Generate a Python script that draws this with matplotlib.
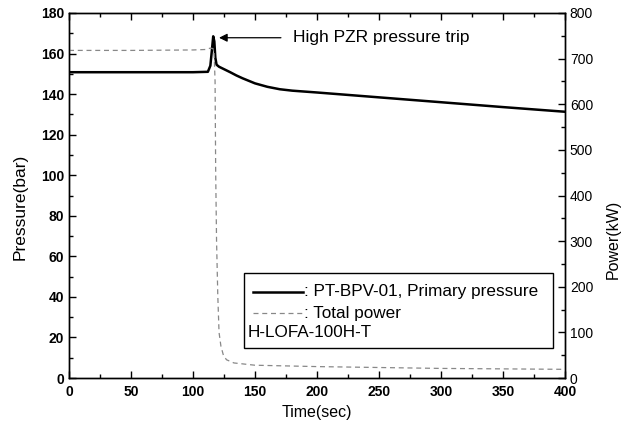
import matplotlib
matplotlib.use("Agg")
import matplotlib.pyplot as plt
from matplotlib.ticker import MultipleLocator
from matplotlib.patches import Rectangle
from matplotlib.lines import Line2D

plt.rcParams['font.family'] = ['Liberation Sans', 'DejaVu Sans']

# Primary pressure (bar)
time_p = [0, 50, 100, 112, 114, 115.3, 116.3, 117.2, 118, 119, 121, 125, 130, 135,
          140, 150, 160, 170, 180, 200, 250, 300, 350, 400]
pressure = [150.8, 150.8, 150.8, 151.0, 154, 162, 168.5, 166, 158, 154.5, 153.5, 152.3,
            150.8, 149.2, 147.8, 145.3, 143.6, 142.4, 141.7, 140.8, 138.4, 136.0, 133.6, 131.3]

# Total power (kW)
time_w = [0, 50, 100, 110, 114, 116, 117, 117.8, 118.3, 119, 120, 121, 122.5, 124.5,
          127, 133, 150, 200, 250, 300, 350, 400]
power = [718, 718, 719, 720, 723, 722, 715, 650, 450, 300, 180, 100, 70, 50,
         40, 33, 28, 25, 23, 21, 20, 19]

fig = plt.figure(figsize=(6.33, 4.33), dpi=100)
ax = fig.add_axes([69/633, 1-378/433, (565-69)/633, (378-13)/433])
ax2 = ax.twinx()

ax.plot(time_p, pressure, color='black', lw=1.8, zorder=3)
ax2.plot(time_w, power, color='#888888', lw=0.9, ls=(0, (4, 3)))

ax.set_xlim(0, 400)
ax.set_ylim(0, 180)
ax2.set_ylim(0, 800)

ax.xaxis.set_major_locator(MultipleLocator(50))
ax.xaxis.set_minor_locator(MultipleLocator(25))
ax.yaxis.set_major_locator(MultipleLocator(20))
ax.yaxis.set_minor_locator(MultipleLocator(10))
ax2.yaxis.set_major_locator(MultipleLocator(100))
ax2.yaxis.set_minor_locator(MultipleLocator(50))

ax.tick_params(axis='x', which='both', direction='in', top=True, bottom=True)
ax.tick_params(axis='x', which='major', pad=5)
ax.tick_params(axis='y', which='both', direction='in', left=True, right=False)
ax.tick_params(which='major', length=5, width=1)
ax.tick_params(which='minor', length=3, width=1)
ax2.tick_params(which='both', direction='in', width=1)
ax2.tick_params(which='major', length=5, labelsize=10)
ax2.tick_params(which='minor', length=3)

for lab in ax.get_xticklabels() + ax.get_yticklabels():
    lab.set_fontweight('bold')
    lab.set_fontsize(10)

for a in (ax, ax2):
    for s in a.spines.values():
        s.set_linewidth(1)

ax.set_xlabel('Time(sec)', fontsize=11.5, labelpad=4)
ax.set_ylabel('Pressure(bar)', fontsize=12.5, labelpad=10)
ax.yaxis.set_label_coords(-0.083, 0.47)
ax2.set_ylabel('Power(kW)', fontsize=11.5, labelpad=8)
ax2.yaxis.set_label_coords(1.082, 0.38)

ax.annotate('High PZR pressure trip', xy=(121, 167.8), xytext=(181, 167.8),
            fontsize=12.5, va='center', ha='left',
            arrowprops=dict(arrowstyle='-|>', color='black', lw=0.9,
                            mutation_scale=12, shrinkB=0, shrinkA=7))

# legend box
ax.add_patch(Rectangle((0.352, 0.083), 0.623, 0.205, transform=ax.transAxes,
                       fill=True, facecolor='white', edgecolor='black', lw=1, zorder=5))
ax.add_line(Line2D([0.371, 0.472], [0.236, 0.236], transform=ax.transAxes,
                   color='black', lw=1.8, zorder=6))
ax.add_line(Line2D([0.371, 0.472], [0.178, 0.178], transform=ax.transAxes,
                   color='#888888', lw=0.9, ls=(0, (4, 3)), zorder=6))
ax.text(0.474, 0.236, ': PT-BPV-01, Primary pressure', transform=ax.transAxes,
        fontsize=12.3, va='center', ha='left', zorder=6)
ax.text(0.474, 0.178, ': Total power', transform=ax.transAxes,
        fontsize=12.3, va='center', ha='left', zorder=6)
ax.text(0.36, 0.124, 'H-LOFA-100H-T', transform=ax.transAxes,
        fontsize=12.3, va='center', ha='left', zorder=6)

fig.savefig('out.png', dpi=100)
